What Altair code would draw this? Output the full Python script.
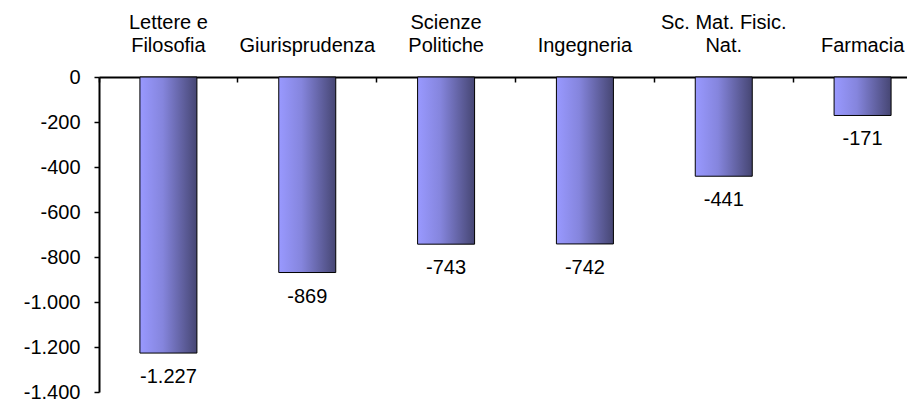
import altair as alt
import pandas as pd

categories = ["Lettere e|Filosofia", "Giurisprudenza", "Scienze|Politiche",
              "Ingegneria", "Sc. Mat. Fisic.|Nat.", "Farmacia"]
values = [-1227, -869, -743, -742, -441, -171]
y_ticks = [0, -200, -400, -600, -800, -1000, -1200, -1400]

df = pd.DataFrame({"cat": categories, "val": values})
df["lbl"] = [f"{v:,}".replace(",", ".") for v in values]

FONT = "Liberation Sans"
FS = 20
W, H = 808, 315

xscale = alt.Scale(domain=categories, range=[0, 833], paddingInner=0, paddingOuter=0)
yscale = alt.Scale(domain=[-1400, 0], nice=False, zero=False)

grad = alt.Gradient(
    gradient="linear",
    stops=[alt.GradientStop(color="#9999FF", offset=0),
           alt.GradientStop(color="#8585DD", offset=0.4),
           alt.GradientStop(color="#464673", offset=1)],
    x1=0, x2=1, y1=0, y2=0,
)

base = alt.Chart(df)

bars = base.mark_bar(size=57, fill=grad, stroke="black", strokeWidth=1).encode(
    x=alt.X("cat:N", scale=xscale, sort=None,
            axis=alt.Axis(orient="top", title=None, domain=False, ticks=False,
                          labelAngle=0,
                          labelExpr="indexof(datum.label, '|') >= 0 ? split(datum.label, '|') : ['', datum.label]",
                          labelFontSize=FS, labelFont=FONT, labelColor="black",
                          labelPadding=45, labelLineHeight=23, labelBaseline="bottom")),
    y=alt.Y("val:Q", scale=yscale,
            axis=alt.Axis(title=None, values=y_ticks, grid=False,
                          labelExpr="replace(replace(format(datum.value, ','), ',', '.'), '\u2212', '-')",
                          labelFontSize=FS, labelFont=FONT, labelColor="black",
                          labelPadding=14, tickSize=5, tickWidth=1.5, tickColor="black",
                          domainColor="black", domainWidth=2)),
)

labels = base.mark_text(baseline="top", dy=14, fontSize=FS, font=FONT, color="black").encode(
    x=alt.X("cat:N", scale=xscale, sort=None,
            axis=alt.Axis(orient="bottom", offset=-H, title=None, labels=False,
                          ticks=True, tickSize=5, tickWidth=1.5, tickColor="black",
                          bandPosition=0, domain=True, domainWidth=2, domainColor="black")),
    y=alt.Y("val:Q", scale=yscale),
    text="lbl:N",
)

chart = alt.layer(bars, labels).resolve_axis(x="independent").properties(
    width=W, height=H,
    autosize=alt.AutoSizeParams(type="none"),
    padding={"left": 91, "top": 69, "right": 0, "bottom": 12},
).configure_view(stroke=None)

chart.save("out.html", embed_options={"renderer": "svg", "actions": False})
